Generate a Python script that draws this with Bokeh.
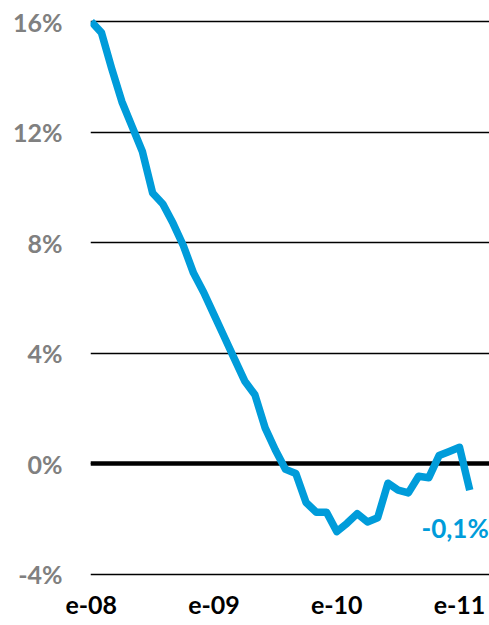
from bokeh.plotting import figure
from bokeh.models import Range1d, FixedTicker, Grid, Label
from bokeh.embed import file_html
from bokeh.resources import INLINE

# Monthly series, Jan 2008 .. Feb 2011 (%)
values = [16.0, 15.6, 14.3, 13.1, 12.2, 11.3, 9.8, 9.4, 8.7, 7.9, 6.9, 6.2,
          5.4, 4.6, 3.8, 3.0, 2.5, 1.3, 0.5, -0.2, -0.35, -1.4, -1.75, -1.75,
          -2.45, -2.15, -1.8, -2.1, -1.95, -0.7, -0.95, -1.05, -0.45, -0.5, 0.3, 0.45,
          0.6, -0.95]
x = list(range(len(values)))

x_ticks = [0, 12, 24, 36]
x_tick_labels = ["e-08", "e-09", "e-10", "e-11"]
y_ticks = [-4, 0, 4, 8, 12, 16]
y_tick_labels = ["-4%", "0%", "4%", "8%", "12%", "16%"]
end_label = "-0,1%"

BLUE = "#009CDA"
FONT = "Lato"

grid_bounds = (-0.07, 37.27)
p = figure(width=489, height=625, output_backend="svg", toolbar_location=None,
           x_range=Range1d(-0.07, 38.93), y_range=Range1d(-4.4, 16.4),
           min_border_left=90, min_border_right=0, min_border_top=10, min_border_bottom=40)
p.outline_line_color = None
p.background_fill_color = "white"
p.border_fill_color = "white"

# grid
p.xgrid.visible = False
p.ygrid.ticker = FixedTicker(ticks=y_ticks)
p.ygrid.grid_line_color = "black"
p.ygrid.grid_line_width = 1.5
p.ygrid.bounds = grid_bounds

zero_grid = Grid(dimension=1, ticker=FixedTicker(ticks=[0]), bounds=grid_bounds,
                 grid_line_color="black", grid_line_width=4.5)
p.add_layout(zero_grid)

p.line(x, values, line_color=BLUE, line_width=7.5, line_join="round")

lab = Label(x=x[-1], y=values[-1], text=end_label, x_offset=19, y_offset=-38,
            text_align="right", text_baseline="middle", text_color=BLUE,
            text_font=FONT, text_font_style="bold", text_font_size="26px")
p.add_layout(lab)

# y axis
ya = p.yaxis[0]
ya.ticker = FixedTicker(ticks=y_ticks)
ya.major_label_overrides = {t: l for t, l in zip(y_ticks, y_tick_labels)}
ya.axis_line_color = None
ya.major_tick_line_color = None
ya.minor_tick_line_color = None
ya.major_tick_out = 0
ya.major_tick_in = 0
ya.major_label_standoff = 28
ya.major_label_text_font = FONT
ya.major_label_text_font_style = "bold"
ya.major_label_text_font_size = "25px"
ya.major_label_text_color = "#808080"

# x axis
xa = p.xaxis[0]
xa.ticker = FixedTicker(ticks=x_ticks)
xa.major_label_overrides = {t: l for t, l in zip(x_ticks, x_tick_labels)}
xa.axis_line_color = None
xa.major_tick_line_color = None
xa.minor_tick_line_color = None
xa.major_tick_out = 0
xa.major_tick_in = 0
xa.major_label_standoff = 10
xa.major_label_text_font = FONT
xa.major_label_text_font_style = "bold"
xa.major_label_text_font_size = "25px"
xa.major_label_text_color = "black"

open("out.html", "w").write(file_html(p, INLINE))
